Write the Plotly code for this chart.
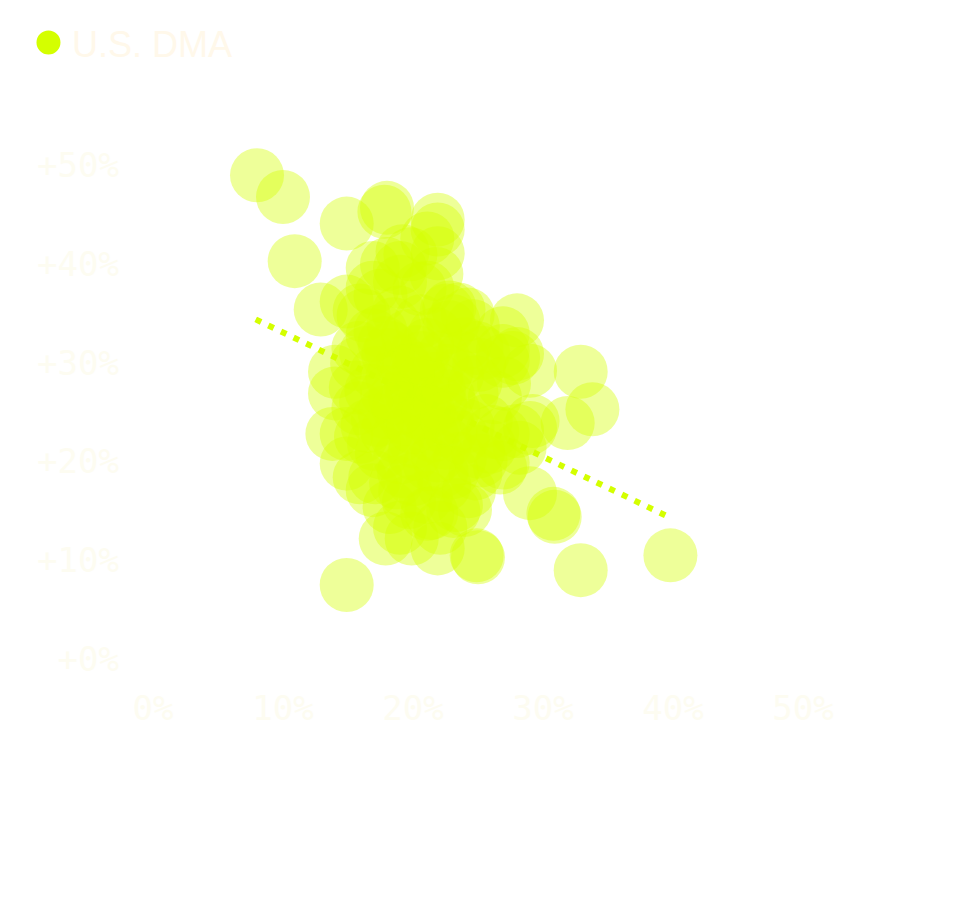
import plotly.graph_objects as go

# DMA scatter: x = share (%), y = change (%)
dma_x = [
    # outer points
    8.0, 10.0, 14.9, 18.0, 17.8, 21.9, 21.9, 10.9, 21.9, 12.9, 14.9, 28.0, 26.9,
    32.9, 33.8, 31.9, 29.0, 29.0, 28.0, 26.9, 30.8, 30.9, 29.0, 32.9, 39.8, 14.9,
    24.9, 25.0, 21.9, 19.9, 17.9, 24.0, 14.9, 14.9, 14.0, 14.0, 16.9, 26.9, 28.0,
    # edge of the cluster
    18.0, 19.8, 21.8, 21.1, 16.9, 15.9, 22.6, 23.1, 27.7, 26.9, 29.2, 28.2, 26.9,
    26.7, 19.0, 21.1, 22.1, 13.8, 19.0, 16.9, 19.2, 21.1, 24.9, 24.2, 22.8, 25.2,
    23.1, 15.9,
    # dense middle
    17.5, 18.3, 19.2, 20.4, 21.1, 22.3, 19.8, 18.6, 20.9, 22.0, 23.4, 17.2, 16.4,
    16.8, 19.5, 21.6, 23.1, 18.0, 20.2, 22.5, 24.2, 19.0, 21.3, 23.6, 17.6, 20.0,
    22.4, 18.7, 21.0, 24.5, 25.1, 24.0, 22.8, 20.6, 18.9, 19.9, 21.5, 17.3, 16.2,
    18.1, 20.8, 22.6, 23.5, 15.8, 16.5, 25.6, 25.9, 24.8, 15.7, 19.6, 21.8, 20.5,
    22.9, 18.4, 17.8, 23.8, 24.6, 19.3, 21.9, 20.3, 16.9, 18.5, 22.1, 23.0, 19.7,
    21.4, 17.1, 18.2, 23.3, 26.3, 27.0, 25.4, 26.1, 20.1, 18.8, 22.7, 21.2, 19.6,
    17.0, 16.4, 18.0, 20.7, 22.2, 19.4, 23.8, 17.8, 21.7, 20.0, 18.9, 22.6,
    17.5, 20.5, 19.0, 15.8, 15.6, 16.0, 24.8, 25.0, 24.3,
]
dma_y = [
    49.0, 46.8, 44.1, 45.7, 45.3, 44.5, 43.5, 40.3, 41.1, 35.4, 36.2, 34.3, 33.0,
    29.1, 25.3, 23.9, 29.2, 23.4, 30.9, 30.2, 14.7, 14.4, 16.8, 9.0, 10.5, 7.5,
    10.5, 10.3, 11.2, 12.2, 12.2, 15.1, 19.8, 22.8, 29.1, 26.9, 17.1, 19.9, 23.1,
    40.0, 41.0, 39.0, 37.6, 37.6, 35.3, 35.3, 34.2, 30.5, 31.2, 24.1, 21.4, 22.8,
    19.4, 13.3, 14.7, 13.3, 22.8, 39.6, 39.6, 41.3, 42.6, 31.5, 34.9, 35.6, 20.1,
    15.0, 18.4,
    33.2, 31.5, 30.1, 29.4, 31.8, 30.6, 27.9, 26.4, 26.1, 27.3, 28.8, 29.0, 31.0,
    27.2, 24.3, 23.8, 25.2, 23.1, 22.0, 21.9, 23.6, 20.4, 19.7, 20.3, 20.9, 18.2,
    17.6, 17.9, 16.4, 26.9, 29.8, 31.9, 33.6, 34.2, 35.1, 26.8, 22.6, 24.2, 34.8,
    30.8, 28.0, 29.2, 35.4, 25.4, 23.6, 24.1, 21.5, 18.8, 29.9, 32.7, 28.4, 24.9,
    23.0, 28.5, 25.0, 30.5, 33.7, 19.0, 20.6, 31.1, 32.8, 33.9, 25.9, 18.9, 15.9,
    14.8, 18.4, 15.4, 15.6, 26.5, 27.9, 31.0, 23.0, 20.8, 22.5, 26.6, 25.0, 29.2,
    21.8, 26.0, 27.0, 30.5, 19.0, 17.0, 22.4, 32.0, 32.9, 23.5, 25.4, 24.4,
    36.8, 37.5, 38.2, 31.5, 27.5, 22.5, 28.0, 21.0, 17.0,
]

# trend line ends
trend_x = [7.9, 39.5]
trend_y = [34.4, 14.5]

x_ticks = [0, 10, 20, 30, 40, 50]
x_labels = ["0%", "10%", "20%", "30%", "40%", "50%"]
y_ticks = [0, 10, 20, 30, 40, 50]
y_labels = ["+0%", "+10%", "+20%", "+30%", "+40%", "+50%"]

lime = "#d4ff00"
tick_color = "#fdfcf1"

fig = go.Figure()

fig.add_trace(go.Scatter(
    x=dma_x, y=dma_y, mode="markers", name="U.S. DMA",
    marker=dict(size=54, color=lime, opacity=0.4, line=dict(width=0)),
    cliponaxis=False, showlegend=False, hoverinfo="skip",
))

fig.add_trace(go.Scatter(
    x=trend_x, y=trend_y, mode="lines",
    line=dict(color=lime, width=6, dash="6px,8px"),
    showlegend=False, hoverinfo="skip",
))

# legend built by hand (big dot + label)
fig.add_shape(type="circle", xref="paper", yref="paper",
              xsizemode="pixel", ysizemode="pixel",
              xanchor=-0.134, yanchor=1.1354, x0=-12, x1=12, y0=-12, y1=12,
              fillcolor=lime, line=dict(width=0))
fig.add_annotation(text="U.S. DMA", xref="paper", yref="paper",
                   x=-0.1064, y=1.1308, xanchor="left", yanchor="middle",
                   showarrow=False,
                   font=dict(family="Liberation Sans", size=36, color="#fff8ea"))

fig.update_xaxes(range=[0, 60], tickvals=x_ticks, ticktext=x_labels,
                 showgrid=False, zeroline=False, showline=False,
                 ticklabelstandoff=26,
                 tickfont=dict(family="DejaVu Sans Mono", size=34, color=tick_color))
fig.update_yaxes(range=[0, 55], tickvals=y_ticks, ticktext=y_labels,
                 showgrid=False, zeroline=False, showline=False,
                 ticklabelstandoff=33,
                 tickfont=dict(family="DejaVu Sans Mono", size=34, color=tick_color))

fig.update_layout(width=956, height=909,
                  margin=dict(l=145, r=31, t=108, b=258),
                  plot_bgcolor="white", paper_bgcolor="white")

fig.write_html("out.html")
